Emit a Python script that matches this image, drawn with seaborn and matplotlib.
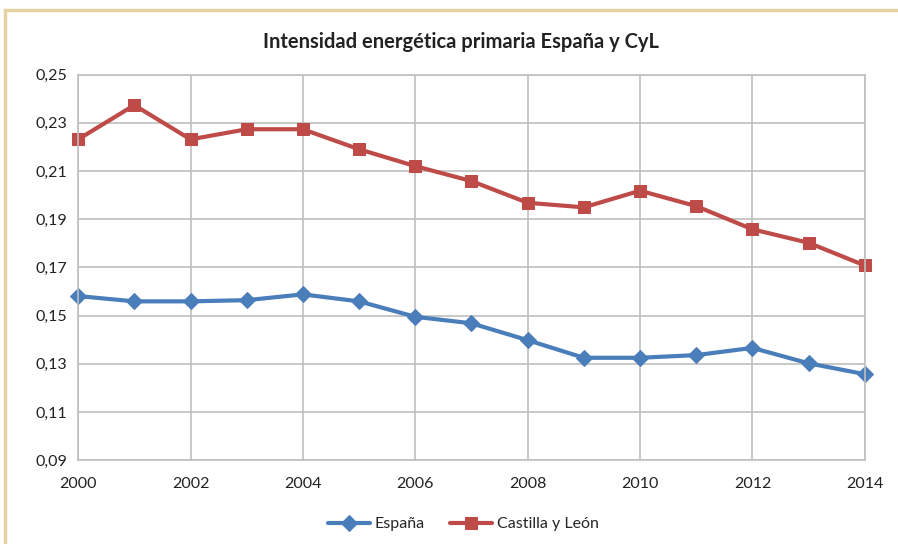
import matplotlib
matplotlib.use("Agg")
import matplotlib.pyplot as plt
from matplotlib.patches import Rectangle
from matplotlib.ticker import FuncFormatter
import pandas as pd
import seaborn as sns

# Data
years = list(range(2000, 2015))
espana = [0.1581, 0.1559, 0.1559, 0.1564, 0.1588, 0.1559, 0.1495, 0.1468,
          0.1398, 0.1325, 0.1325, 0.1336, 0.1366, 0.1302, 0.1257]
cyl = [0.2231, 0.2373, 0.2231, 0.2273, 0.2273, 0.2190, 0.2120, 0.2058,
       0.1968, 0.1949, 0.2018, 0.1954, 0.1858, 0.1802, 0.1708]
series_names = ["España", "Castilla y León"]
colors = ["#4A7EBB", "#BE4B48"]
markers = ["D", "s"]

df = pd.DataFrame({"year": years * 2,
                   "value": espana + cyl,
                   "serie": [series_names[0]] * len(years) + [series_names[1]] * len(years)})

sns.set_style("white")
plt.rcParams["font.family"] = ["Lato", "DejaVu Sans"]

fig = plt.figure(figsize=(8.98, 5.44), dpi=100)
ax = fig.add_axes([0.087, 0.154, 0.876, 0.709])

# outer chart frame
fig.patches.append(Rectangle((5 / 898, -0.05), 1.0, 1 - 10 / 544 + 0.05,
                             transform=fig.transFigure, fill=False,
                             edgecolor="#E3D3A0", linewidth=2.5))

for name, c, m in zip(series_names, colors, markers):
    sub = df[df["serie"] == name]
    sns.lineplot(data=sub, x="year", y="value", ax=ax, color=c, linewidth=3,
                 marker=m, markersize=9 if m == "s" else 8, markeredgecolor=c,
                 label=name, clip_on=False)

ax.set_xlim(2000, 2014)
ax.set_ylim(0.09, 0.25)
ax.set_xticks(range(2000, 2015, 2))
ax.set_yticks([0.09, 0.11, 0.13, 0.15, 0.17, 0.19, 0.21, 0.23, 0.25])
ax.yaxis.set_major_formatter(FuncFormatter(lambda v, p: f"{v:.2f}".replace(".", ",")))
ax.grid(True, color="#BFBFBF", linewidth=1.2)
ax.set_axisbelow(True)
for s in ax.spines.values():
    s.set_color("#BFBFBF")
    s.set_linewidth(1.2)
ax.tick_params(axis="y", labelsize=11.5, length=0, pad=8, labelcolor="#222222")
ax.tick_params(axis="x", labelsize=11.5, length=0, pad=12, labelcolor="#222222")
ax.set_xlabel("")
ax.set_ylabel("")

fig.text(0.513, 0.922, "Intensidad energética primaria España y CyL",
         ha="center", va="center", fontsize=14.5, fontweight="bold", color="#222222")

ax.legend(loc="upper center", bbox_to_anchor=(0.49, -0.11), ncol=2, frameon=False,
          fontsize=11.5, handlelength=2.6, columnspacing=1.6, handletextpad=0.3)

fig.savefig("out.png", dpi=100)
